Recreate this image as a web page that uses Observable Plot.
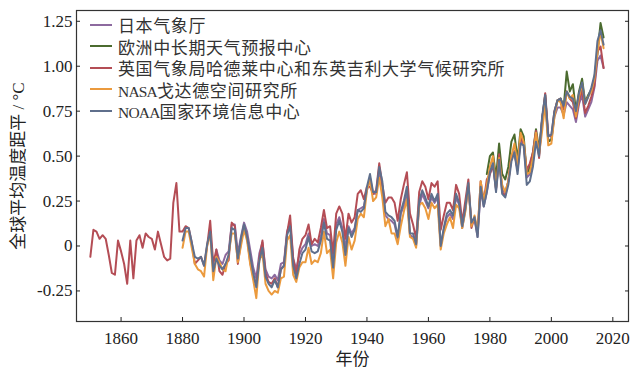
<!DOCTYPE html>
<html>
<head>
<meta charset="utf-8">
<script src="https://cdn.jsdelivr.net/npm/d3@7"></script>
<script src="https://cdn.jsdelivr.net/npm/@observablehq/plot@0.6"></script>
<style>
  body { margin: 0; background: #fff; }
  #wrap { position: relative; width: 640px; height: 376px; overflow: hidden; }
  #legend { position: absolute; left: 90px; top: 14px; font-family: "Liberation Serif", "Noto Sans CJK SC", serif; font-size: 17px; color: #333; letter-spacing: 0.6px; }
  .row { display: flex; align-items: center; height: 21.5px; white-space: nowrap; }
  .sw { width: 22px; height: 0; border-top: 2px solid; margin-right: 6px; }
  .lat { font-size: 15.5px; letter-spacing: -0.8px; }
</style>
</head>
<body>
<div id="wrap"><div id="legend"></div></div>
<script>
// Series names (legend order) and colours
const seriesNames = [
  "日本气象厅",
  "欧洲中长期天气预报中心",
  "英国气象局哈德莱中心和东英吉利大学气候研究所",
  "NASA戈达德空间研究所",
  "NOAA国家环境信息中心"
];
const seriesColors = ["#8d6a9f", "#4b6b2f", "#b44d55", "#eb9a3d", "#5f6f8c"];
const firstYears = [1891, 1979, 1850, 1880, 1880];

// Annual global mean temperature anomaly (°C, vs. 1850–1900)
const jma = [
  -0.02, -0.08, -0.10, -0.05, -0.03, 0.12, 0.12, -0.04, 0.05,
  0.13, 0.08, -0.02, -0.12, -0.18, -0.04, 0.02, -0.13, -0.17, -0.18,
  -0.16, -0.19, -0.10, -0.09, 0.08, 0.13, -0.07, -0.13, -0.05, -0.01,
  0.01, 0.07, 0.00, 0.01, 0.00, 0.05, 0.15, 0.07, 0.06, -0.08,
  0.12, 0.16, 0.10, -0.01, 0.11, 0.07, 0.10, 0.20, 0.21, 0.22,
  0.31, 0.38, 0.29, 0.29, 0.42, 0.33, 0.17, 0.15, 0.14, 0.12,
  0.04, 0.18, 0.22, 0.30, 0.06, 0.05, 0.00, 0.22, 0.29, 0.25,
  0.21, 0.27, 0.24, 0.27, 0.00, 0.09, 0.16, 0.18, 0.15, 0.27,
  0.23, 0.10, 0.20, 0.33, 0.12, 0.15, 0.05, 0.31, 0.22, 0.30,
  0.40, 0.46, 0.31, 0.49, 0.31, 0.30, 0.36, 0.49, 0.53, 0.42,
  0.59, 0.56, 0.38, 0.40, 0.47, 0.60, 0.51, 0.71, 0.82, 0.59,
  0.59, 0.72, 0.77, 0.77, 0.73, 0.80, 0.78, 0.76, 0.69, 0.79,
  0.84, 0.72, 0.76, 0.80, 0.88, 1.03, 1.06, 0.99
];
const ecmwf = [
  0.40,
  0.50, 0.52, 0.38, 0.57, 0.40, 0.37, 0.44, 0.58, 0.62, 0.48,
  0.65, 0.61, 0.40, 0.44, 0.52, 0.65, 0.54, 0.70, 0.84, 0.58,
  0.59, 0.74, 0.81, 0.82, 0.77, 0.97, 0.86, 0.90, 0.75, 0.86,
  0.93, 0.80, 0.84, 0.87, 0.93, 1.07, 1.24, 1.16
];
const hadcrut = [
  -0.06, 0.09, 0.08, 0.04, 0.06, 0.04, -0.05, -0.15, -0.16, 0.03,
  -0.03, -0.10, -0.21, 0.03, -0.18, 0.03, 0.06, -0.01, 0.07, 0.05,
  0.04, -0.02, 0.08, 0.01, -0.06, -0.08, -0.07, 0.24, 0.35, 0.08,
  0.08, 0.11, 0.10, 0.02, -0.10, -0.08, -0.06, -0.11, 0.00, 0.14,
  -0.10, -0.02, -0.14, -0.16, -0.10, -0.08, 0.13, 0.11, -0.10, 0.02,
  0.11, 0.05, -0.09, -0.17, -0.21, -0.07, 0.03, -0.15, -0.20, -0.21,
  -0.18, -0.23, -0.13, -0.11, 0.07, 0.17, -0.07, -0.16, -0.02, 0.04,
  0.06, 0.12, 0.01, 0.04, 0.02, 0.10, 0.20, 0.10, 0.11, -0.04,
  0.18, 0.22, 0.18, 0.04, 0.18, 0.13, 0.16, 0.29, 0.31, 0.26,
  0.33, 0.33, 0.29, 0.31, 0.46, 0.34, 0.24, 0.27, 0.27, 0.24,
  0.14, 0.26, 0.34, 0.41, 0.18, 0.12, 0.04, 0.30, 0.36, 0.33,
  0.26, 0.35, 0.33, 0.36, 0.09, 0.17, 0.24, 0.24, 0.20, 0.34,
  0.29, 0.13, 0.25, 0.37, 0.10, 0.16, 0.07, 0.36, 0.25, 0.37,
  0.40, 0.45, 0.32, 0.51, 0.30, 0.28, 0.36, 0.50, 0.51, 0.43,
  0.61, 0.57, 0.42, 0.46, 0.52, 0.64, 0.49, 0.70, 0.85, 0.62,
  0.61, 0.75, 0.81, 0.82, 0.76, 0.86, 0.82, 0.80, 0.71, 0.81,
  0.87, 0.74, 0.78, 0.83, 0.89, 1.08, 1.11, 0.99
];
const nasa = [
  -0.01, 0.08, 0.08, -0.01, -0.10, -0.13, -0.14, -0.17, 0.00, 0.07,
  -0.19, -0.06, -0.09, -0.13, -0.14, -0.05, 0.07, 0.07, -0.09, 0.00,
  0.09, 0.03, -0.10, -0.19, -0.29, -0.08, -0.04, -0.21, -0.25, -0.27,
  -0.25, -0.26, -0.18, -0.17, 0.03, 0.06, -0.16, -0.20, -0.12, -0.09,
  -0.09, -0.01, -0.10, -0.08, -0.09, -0.04, 0.08, -0.04, -0.02, -0.18,
  0.02, 0.08, 0.02, -0.11, 0.05, -0.02, 0.03, 0.15, 0.18, 0.16,
  0.31, 0.37, 0.25, 0.27, 0.38, 0.27, 0.11, 0.15, 0.07, 0.07,
  0.01, 0.11, 0.19, 0.26, 0.05, 0.04, -0.01, 0.23, 0.24, 0.21,
  0.15, 0.24, 0.21, 0.23, -0.02, 0.07, 0.12, 0.16, 0.10, 0.23,
  0.21, 0.10, 0.19, 0.34, 0.11, 0.17, 0.08, 0.36, 0.25, 0.34,
  0.44, 0.50, 0.32, 0.49, 0.34, 0.30, 0.36, 0.50, 0.57, 0.45,
  0.63, 0.58, 0.40, 0.41, 0.49, 0.63, 0.51, 0.64, 0.79, 0.56,
  0.57, 0.72, 0.81, 0.80, 0.71, 0.86, 0.82, 0.84, 0.72, 0.83,
  0.90, 0.79, 0.83, 0.86, 0.93, 1.08, 1.19, 1.10
];
const noaa = [
  0.03, 0.10, 0.10, 0.02, -0.06, -0.07, -0.06, -0.11, 0.01, 0.08,
  -0.14, -0.07, -0.11, -0.13, -0.10, -0.05, 0.10, 0.09, -0.07, 0.04,
  0.12, 0.05, -0.05, -0.15, -0.23, -0.08, -0.01, -0.17, -0.21, -0.23,
  -0.19, -0.23, -0.13, -0.11, 0.06, 0.11, -0.11, -0.18, -0.10, -0.04,
  -0.02, 0.05, -0.03, -0.04, -0.03, 0.03, 0.13, 0.04, 0.03, -0.12,
  0.09, 0.14, 0.08, -0.05, 0.10, 0.05, 0.09, 0.20, 0.19, 0.21,
  0.33, 0.40, 0.30, 0.30, 0.44, 0.36, 0.19, 0.17, 0.16, 0.14,
  0.05, 0.19, 0.25, 0.33, 0.07, 0.07, 0.01, 0.25, 0.31, 0.27,
  0.22, 0.29, 0.25, 0.29, 0.00, 0.10, 0.18, 0.20, 0.17, 0.29,
  0.24, 0.11, 0.21, 0.35, 0.13, 0.16, 0.05, 0.33, 0.22, 0.30,
  0.41, 0.46, 0.30, 0.48, 0.29, 0.27, 0.34, 0.47, 0.52, 0.40,
  0.57, 0.56, 0.34, 0.36, 0.44, 0.58, 0.50, 0.72, 0.84, 0.61,
  0.62, 0.75, 0.81, 0.82, 0.78, 0.86, 0.83, 0.82, 0.75, 0.85,
  0.91, 0.79, 0.83, 0.88, 0.95, 1.14, 1.20, 1.12
];

// Axis ticks
const xTicks = [1860, 1880, 1900, 1920, 1940, 1960, 1980, 2000, 2020];
const yTicks = [-0.25, 0, 0.25, 0.5, 0.75, 1.0, 1.25];
const yTickLabels = ["-0.25", "0", "0.25", "0.50", "0.75", "1.00", "1.25"];
const xLabel = "年份";
const yLabel = "全球平均温度距平 / °C";

const seriesValues = [jma, ecmwf, hadcrut, nasa, noaa];
const rows = [];
seriesValues.forEach((vals, i) => {
  vals.forEach((v, j) => rows.push({series: seriesNames[i], year: firstYears[i] + j, value: v}));
});

const chart = Plot.plot({
  width: 640,
  height: 376,
  marginLeft: 76,
  marginRight: 12,
  marginTop: 10,
  marginBottom: 55,
  style: {fontFamily: '"Liberation Serif", "Noto Sans CJK SC", serif', fontSize: "17px", color: "#222", background: "#fff"},
  x: {domain: [1845.5, 2025.1]},
  y: {domain: [-0.42, 1.31]},
  color: {domain: seriesNames, range: seriesColors},
  marks: [
    Plot.lineY(rows, {x: "year", y: "value", z: "series", stroke: "series", strokeWidth: 2, strokeLinejoin: "round"}),
    Plot.frame({stroke: "#333", strokeWidth: 1.2}),
    Plot.axisX(xTicks, {anchor: "bottom", tickSize: -4, tickPadding: 14, tickFormat: d => String(d),
      label: xLabel, labelAnchor: "center", labelArrow: "none", labelOffset: 43}),
    Plot.axisY(yTicks, {anchor: "left", tickSize: -4, tickPadding: 8,
      tickFormat: d => yTickLabels[yTicks.indexOf(d)],
      label: yLabel, labelAnchor: "center", labelArrow: "none", labelOffset: 65}),
    Plot.axisY(yTicks, {anchor: "right", tickSize: -4, fill: "none", label: null})
  ]
});
document.getElementById("wrap").prepend(chart);

// Legend (inside the top-left of the frame)
const legend = d3.select("#legend");
seriesNames.forEach((name, i) => {
  const row = legend.append("div").attr("class", "row");
  row.append("div").attr("class", "sw").style("border-top-color", seriesColors[i]);
  const m = name.match(/^([A-Za-z]+)(.*)$/);
  const t = row.append("div");
  if (m) {
    t.append("span").attr("class", "lat").text(m[1]);
    t.append("span").text(m[2]);
  } else {
    t.text(name);
  }
});
</script>
</body>
</html>
